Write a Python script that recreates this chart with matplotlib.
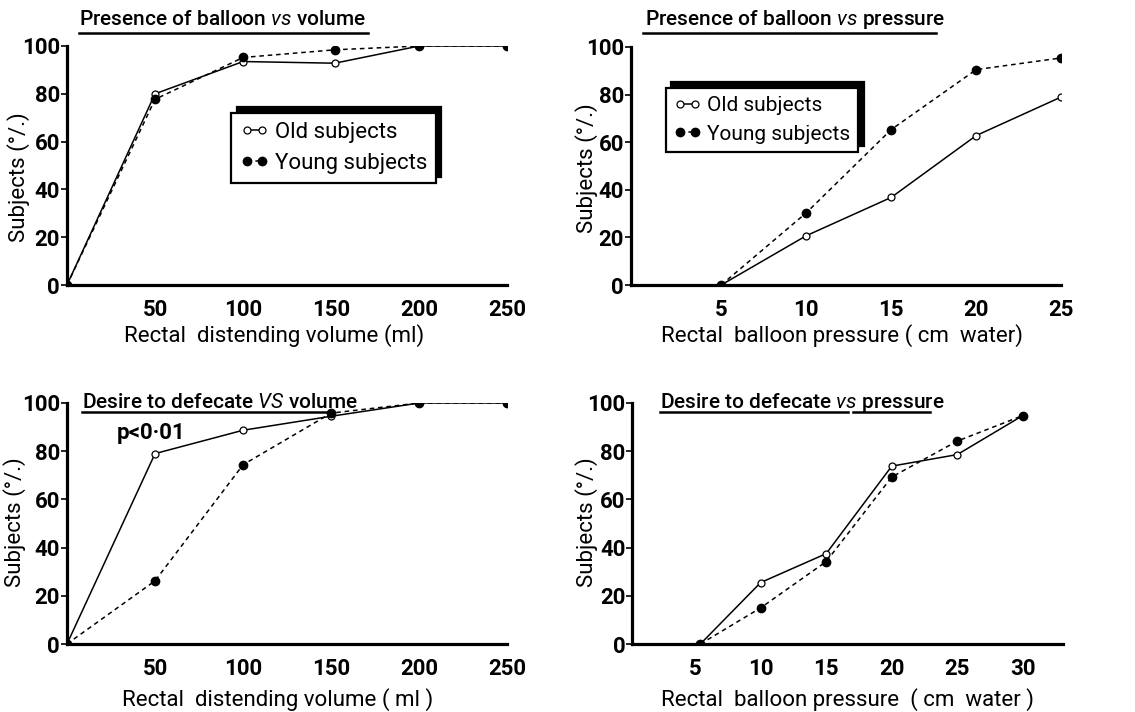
import matplotlib
matplotlib.use("Agg")
import matplotlib.pyplot as plt
from matplotlib.lines import Line2D

plt.rcParams['font.family'] = ['Roboto', 'DejaVu Sans']
plt.rcParams['mathtext.fontset'] = 'custom'
plt.rcParams['mathtext.it'] = 'Roboto:italic'
plt.rcParams['mathtext.rm'] = 'Roboto'

# presence of balloon vs volume
vol_x = [0, 50, 100, 152, 200, 250]
bal_vol_old = [0, 80, 93.5, 92.8, 100, 100]
bal_vol_young = [0, 77.7, 95.2, 98.4, 100, 100]

# presence of balloon vs pressure
bp_x = [5, 10, 15, 20, 25]
bal_pr_old = [0, 20.7, 36.8, 62.8, 79]
bal_pr_young = [0, 30.3, 65.3, 90.5, 95.4]

# desire to defecate vs volume
dv_x = [0, 50, 100, 150, 200, 250]
des_vol_old = [0, 79, 88.7, 94.5, 100, 100]
des_vol_young = [0, 26.2, 74.4, 95.8, 100, 100]

# desire to defecate vs pressure
dp_x = [5.4, 10, 15, 20, 25, 30]
des_pr_old = [0, 25.5, 37.5, 73.8, 78.6, 94.8]
des_pr_young = [0, 15, 34.2, 69.3, 84.2, 94.8]

vol_ticks = [50, 100, 150, 200, 250]
pr_ticks_top = [5, 10, 15, 20, 25]
pr_ticks_bot = [5, 10, 15, 20, 25, 30]
y_ticks = [0, 20, 40, 60, 80, 100]

fig = plt.figure(figsize=(11.35, 7.12), dpi=100)

ax1 = fig.add_axes([0.059, 0.5997, 0.388, 0.3357])
ax2 = fig.add_axes([0.556, 0.5997, 0.379, 0.3343])
ax3 = fig.add_axes([0.059, 0.0955, 0.388, 0.3385])
ax4 = fig.add_axes([0.557, 0.0955, 0.380, 0.3385])


def draw(ax, x1, y1, x2, y2):
    ax.plot(x1, y1, '-', color='black', lw=1.1, marker='o', ms=5,
            mfc='white', mec='black', mew=0.9, label='Old subjects', zorder=3)
    ax.plot(x2, y2, '--', color='black', lw=1.1, marker='o', ms=6,
            mfc='black', mec='black', dashes=(3, 2.5), label='Young subjects', zorder=3)


def style(ax, xt, xlim, xlab, ylab_xy, xlab_xy):
    ax.set_xlim(*xlim)
    ax.set_ylim(0, 100)
    ax.set_xticks(xt)
    ax.set_yticks(y_ticks)
    for s in ['top', 'right']:
        ax.spines[s].set_visible(False)
    for s in ['left', 'bottom']:
        ax.spines[s].set_linewidth(2.3)
    ax.tick_params(axis='y', length=4, width=1.2, pad=1, labelsize=16)
    ax.tick_params(axis='x', length=0, pad=10, labelsize=16)
    for lab in ax.get_xticklabels() + ax.get_yticklabels():
        lab.set_fontweight('bold')
    ax.set_xlabel(xlab, fontsize=16)
    ax.set_ylabel('Subjects (°/.)', fontsize=16)
    ax.yaxis.set_label_coords(*ylab_xy)
    ax.xaxis.set_label_coords(*xlab_xy)
    ax.patch.set_visible(False)


draw(ax1, vol_x, bal_vol_old, vol_x, bal_vol_young)
style(ax1, vol_ticks, (0, 250), 'Rectal  distending volume (ml)', (-0.084, 0.45), (0.47, -0.163))

draw(ax2, bp_x, bal_pr_old, bp_x, bal_pr_young)
style(ax2, pr_ticks_top, (-0.3, 25), 'Rectal  balloon pressure ( cm  water)', (-0.077, 0.49), (0.49, -0.163))

draw(ax3, dv_x, des_vol_old, dv_x, des_vol_young)
style(ax3, vol_ticks, (0, 250), 'Rectal  distending volume ( ml )', (-0.093, 0.506), (0.478, -0.183))
ax3.text(28, 87.5, 'p<0·01', fontsize=16, fontweight='bold', ha='left', va='center')

draw(ax4, dp_x, des_pr_old, dp_x, des_pr_young)
style(ax4, pr_ticks_bot, (0.2, 33.1), 'Rectal  balloon pressure  ( cm  water )', (-0.079, 0.506), (0.5, -0.183))

shadow = {'color': 'black', 'alpha': 1, 'ox': 4, 'oy': 4}
for ax, anchor, fs in [(ax1, (0.373, 0.72), 16), (ax2, (0.081, 0.828), 15)]:
    leg = ax.legend(loc='upper left', bbox_to_anchor=anchor, borderaxespad=0,
                    numpoints=2, handlelength=1.3, handletextpad=0.25,
                    fancybox=False, shadow=shadow, framealpha=1,
                    edgecolor='black', fontsize=fs, borderpad=0.4,
                    labelspacing=0.45)
    leg.get_frame().set_linewidth(1.6)

# titles with underlines
titles = [
    ('Presence of balloon $\\it{vs}$ volume', 0.0696, 0.972, [(0.0696, 0.3242, 0.9537)]),
    ('Presence of balloon $\\it{vs}$ pressure', 0.568, 0.972, [(0.5665, 0.8247, 0.9537)]),
    ('Desire to defecate $\\it{VS}$ volume', 0.072, 0.435, [(0.072, 0.288, 0.4213)]),
    ('Desire to defecate $\\it{vs}$ pressure', 0.5815, 0.435, [(0.5815, 0.747, 0.4213), (0.7515, 0.8194, 0.4213)]),
]
for txt, tx, ty, lines in titles:
    fig.text(tx, ty, txt, fontsize=15, fontweight='medium', ha='left', va='center')
    for x0, x1, yy in lines:
        fig.add_artist(Line2D([x0, x1], [yy, yy], color='black', lw=1.8,
                              transform=fig.transFigure))

fig.savefig('out.png', dpi=100)
